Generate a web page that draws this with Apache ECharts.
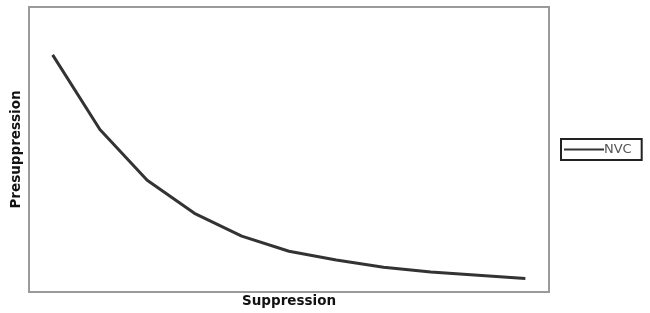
<!DOCTYPE html>
<html lang="en">
<head>
    <meta charset="UTF-8">
    <title>Suppression</title>
    <script src="https://cdn.jsdelivr.net/npm/echarts@6/dist/echarts.min.js"></script>
    <style>
        html, body { margin: 0; padding: 0; background: #fff; }
        #chart { width: 650px; height: 313px; }
    </style>
</head>
<body>
<div id="chart"></div>
<script type="text/javascript">
    // values, y on a 0-100 scale
    var steps = ['1', '2', '3', '4', '5', '6', '7', '8', '9', '10', '11'];
    var nvc = [83.2, 57.0, 39.2, 27.6, 19.6, 14.3, 11.2, 8.7, 7.0, 5.9, 4.7];

    var myChart = echarts.init(document.getElementById('chart'));
    var option = {
        animation: false,
        grid: {
            left: 29,
            right: 101,
            top: 7,
            bottom: 20,
            show: true,
            borderColor: '#9a9a9a',
            borderWidth: 2
        },
        legend: {
            data: ['NVC'],
            orient: 'vertical',
            left: 561,
            top: 139,
            icon: 'rect',
            itemWidth: 40,
            itemHeight: 2,
            itemGap: 0,
            padding: [4, 10, 4, 3],
            borderColor: '#222',
            borderWidth: 2,
            borderRadius: 0,
            textStyle: {
                color: '#555',
                fontFamily: 'DejaVu Sans',
                fontSize: 13,
                padding: [0, 0, 0, -5]
            }
        },
        xAxis: {
            type: 'category',
            data: steps,
            boundaryGap: true,
            name: 'Suppression',
            nameLocation: 'middle',
            nameGap: 2,
            nameTextStyle: {
                color: '#111',
                fontFamily: 'DejaVu Sans',
                fontWeight: 'bold',
                fontSize: 13.5,
                verticalAlign: 'top'
            },
            axisLine: { show: false },
            axisTick: { show: false },
            axisLabel: { show: false },
            splitLine: { show: false }
        },
        yAxis: {
            type: 'value',
            min: 0,
            max: 100,
            name: 'Presuppression',
            nameLocation: 'middle',
            nameGap: 6,
            nameTextStyle: {
                color: '#111',
                fontFamily: 'DejaVu Sans',
                fontWeight: 'bold',
                fontSize: 13.5
            },
            axisLine: { show: false },
            axisTick: { show: false },
            axisLabel: { show: false },
            splitLine: { show: false }
        },
        series: [
            {
                name: 'NVC',
                type: 'line',
                data: nvc,
                symbol: 'none',
                smooth: false,
                color: '#333',
                lineStyle: { color: '#333', width: 3 }
            }
        ]
    };
    myChart.setOption(option);
</script>
</body>
</html>
